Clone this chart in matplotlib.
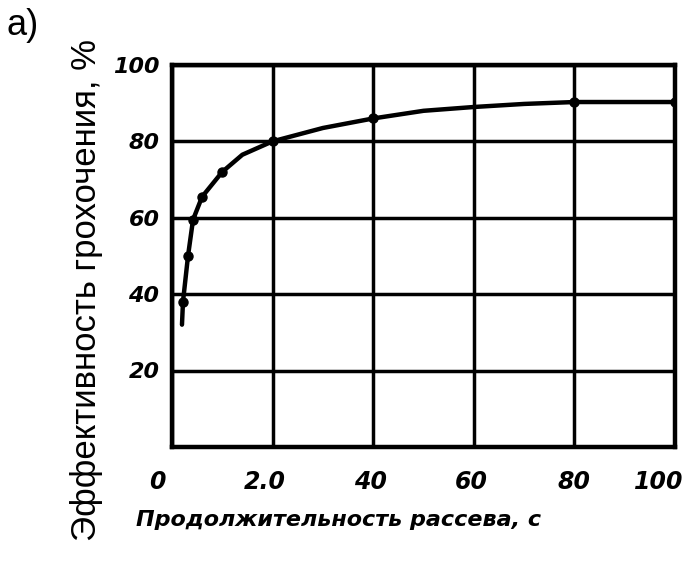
import matplotlib.pyplot as plt
from matplotlib.transforms import ScaledTranslation

# measured points
t_pts = [2.2, 3.2, 4.2, 6, 10, 20, 40, 80, 100]
e_pts = [38, 50, 59.5, 65.5, 72, 80, 86, 90.3, 90.3]

# curve
t_curve = [2.0, 2.2, 3.2, 4.2, 6, 10, 14, 20, 30, 40, 50, 60, 70, 80, 90, 100]
e_curve = [32, 38, 50, 59.5, 65.5, 72, 76.5, 80, 83.5, 86, 88, 89, 89.8, 90.3, 90.3, 90.3]

xticks = [0, 20, 40, 60, 80, 100]
xtick_labels = ['0', '2.0', '40', '60', '80', '100']
yticks = [0, 20, 40, 60, 80, 100]
ytick_labels = ['', '20', '40', '60', '80', '100']

fig = plt.figure(figsize=(6.96, 5.70), dpi=100)
ax = fig.add_axes([0.247, 0.216, 0.723, 0.670])

ax.plot(t_curve, e_curve, color='black', lw=3.2, solid_capstyle='round', zorder=5)
ax.plot(t_pts, e_pts, 'o', color='black', ms=6.5, zorder=6)

ax.set_xlim(0, 100)
ax.set_ylim(0, 100)
ax.set_xticks(xticks)
ax.set_xticklabels(xtick_labels, fontstyle='italic', fontweight='bold', fontsize=17)
ax.set_yticks(yticks)
ax.set_yticklabels(ytick_labels, fontstyle='italic', fontweight='bold', fontsize=16)
ax.tick_params(length=0, pad=9)
ax.tick_params(axis='x', pad=17)

# the scanned labels sit a bit left of their grid lines
shifts = [-15, -8, -3, -3, 0, -16]
for lab, dx in zip(ax.get_xticklabels(), shifts):
    lab.set_transform(lab.get_transform() + ScaledTranslation(dx / 100, 0, fig.dpi_scale_trans))

ax.grid(True, color='black', lw=2.5)
for s in ax.spines.values():
    s.set_linewidth(3.2)

fig.text(0.195, 0.088, 'Продолжительность рассева, с', fontsize=16,
         fontstyle='italic', fontweight='bold', ha='left', va='center')
fig.text(0.124, 0.492, 'Эффективность грохочения, %', rotation=90,
         fontsize=25, family='Liberation Sans', ha='center', va='center')
fig.text(0.010, 0.955, 'a)', fontsize=26, family='Liberation Sans', ha='left', va='center')

fig.savefig('out.png', dpi=100)
